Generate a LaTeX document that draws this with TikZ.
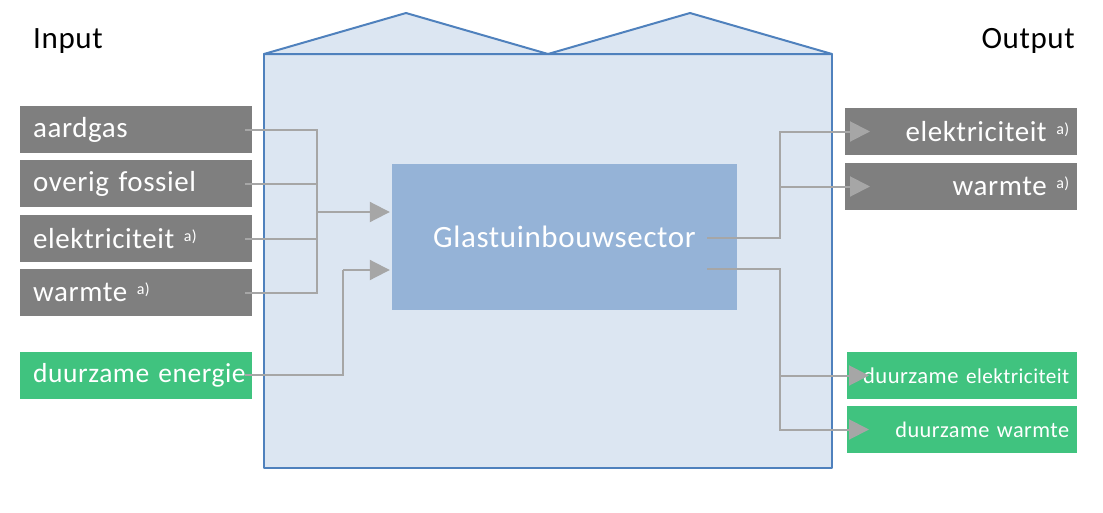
\documentclass[tikz,border=0pt]{standalone}
\usepackage{fontspec}
\setmainfont{Carlito}[LetterSpace=2]
\usetikzlibrary{arrows.meta,calc}
\definecolor{boxgray}{HTML}{7F7F7F}
\definecolor{boxgreen}{HTML}{40C37F}
\definecolor{housefill}{HTML}{DCE6F2}
\definecolor{houseline}{HTML}{4F81BD}
\definecolor{corefill}{HTML}{95B3D7}
\definecolor{connline}{HTML}{A6A6A6}
\newcommand\noteA{\raisebox{7pt}{\fontsize{16}{16}\selectfont a)}}
\newcommand\boxfont[1]{\fontsize{#1}{34}\selectfont\spaceskip=4.5pt plus 1pt\relax}
\begin{document}
\begin{tikzpicture}[x=1pt,y=-1pt,
  house/.style={fill=housefill,draw=houseline,line width=2pt,line join=round},
  inbox/.style={rectangle,fill=#1,text=white,minimum height=47pt,text width=206pt,
    inner xsep=13pt,inner ysep=0pt,align=left,anchor=west,
    font=\boxfont{29}},
  outbox/.style={rectangle,fill=#1,text=white,minimum height=47pt,text width=216pt,
    inner xsep=8pt,inner ysep=0pt,align=right,anchor=west,
    font=\boxfont{29}},
  corebox/.style={rectangle,fill=corefill,text=white,minimum width=345pt,
    minimum height=146pt,font=\fontsize{31}{36}\selectfont},
  heading/.style={font=\fontsize{31}{36}\selectfont,text=black,inner sep=0pt},
  conn/.style={draw=connline,line width=2pt},
  arr/.style={conn,-{Triangle[length=20pt,width=20pt]}}]
\useasboundingbox (0,0) rectangle (1103,512);
% greenhouse
\draw[house] (264,54) rectangle (832,468);
\draw[house] (264,54) -- (406,13) -- (548,54) -- cycle;
\draw[house] (548,54) -- (690,13) -- (832,54) -- cycle;
% headings
\node[heading,anchor=base west] (hin) at (33,48) {Input};
\node[heading,anchor=base east] (hout) at (1075,48) {Output};
% core
\node[corebox] (core) at (564.5,237) {Glastuinbouwsector};
% inputs
\node[inbox=boxgray] (iag) at (20,129.5) {aardgas};
\node[inbox=boxgray] (iof) at (20,183.5) {overig fossiel};
\node[inbox=boxgray] (iel) at (20,238.5) {elektriciteit \noteA};
\node[inbox=boxgray] (iwa) at (20,292.5) {warmte \noteA};
\node[inbox=boxgreen,font=\boxfont{27.5}] (ide) at (20,375) {\mbox{duurzame energie}};
% outputs
\node[outbox=boxgray] (oel) at (845,131.5) {elektriciteit \noteA};
\node[outbox=boxgray] (owa) at (845,186.5) {warmte \noteA};
\node[outbox=boxgreen,text width=214pt,font=\boxfont{22.6}] (odel) at (847,375.5)
  {\mbox{duurzame {\fontsize{21.2}{28}\selectfont elektriciteit}}};
\node[outbox=boxgreen,text width=214pt,font=\boxfont{22.3}] (odwa) at (847,429.5)
  {duurzame warmte};
% junctions
\coordinate (jl) at (317,212);
\coordinate (jd) at (343,270);
\coordinate (co1) at (707,238);
\coordinate (co2) at (707,269);
\coordinate (r1) at (780,238);
\coordinate (r2) at (780,269);
% input connectors
\draw[conn] ([xshift=-7pt]iag.east) -| (jl);
\draw[conn] ([xshift=-7pt]iwa.east) -| (jl);
\draw[conn] ([xshift=-7pt]iof.east) -- (iof.east -| jl);
\draw[conn] ([xshift=-7pt]iel.east) -- (iel.east -| jl);
\draw[arr] (jl) -- ([xshift=-2pt]jl -| core.west);
\draw[conn] ([xshift=-7pt]ide.east) -| (jd);
\draw[arr] (jd) -- ([xshift=-2pt]jd -| core.west);
% output connectors
\draw[arr] (co1) -- (r1) |- ([xshift=25pt]oel.west);
\draw[arr] (r1 |- owa.west) -- ([xshift=25pt]owa.west);
\draw[arr] (co2) -- (r2) |- ([xshift=22pt]odwa.west);
\draw[arr] (r2 |- odel.west) -- ([xshift=22pt]odel.west);
\end{tikzpicture}
\end{document}
